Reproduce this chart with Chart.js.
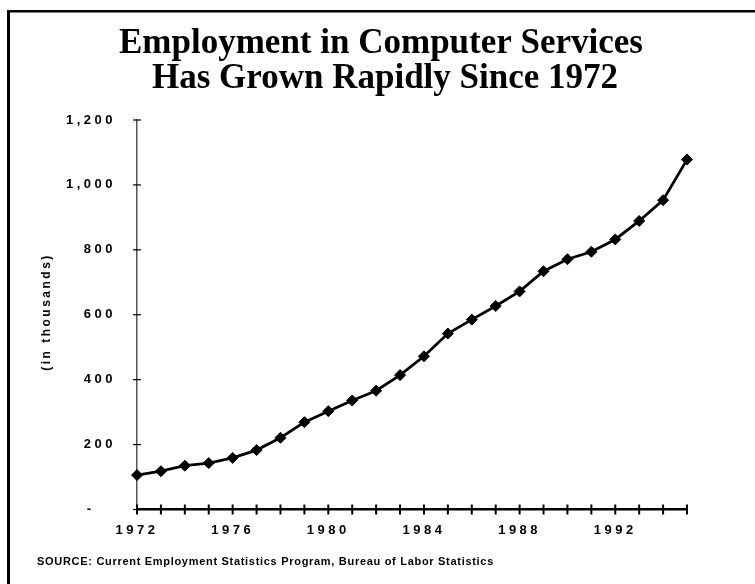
<!DOCTYPE html>
<html>
<head>
<meta charset="utf-8">
<script src="https://cdn.jsdelivr.net/npm/chart.js@4"></script>
<style>
html,body{margin:0;padding:0;background:#fff;}
#wrap{width:755px;height:584px;}
</style>
</head>
<body>
<div id="wrap"><canvas id="chart" width="755" height="584"></canvas></div>
<script>

/* ================= DATA ================= */

let years = [1972,1973,1974,1975,1976,1977,1978,1979,1980,1981,1982,1983,
1984,1985,1986,1987,1988,1989,1990,1991,1992,1993,1994,1995];

let employment = [106,118,135,143,159,183,221,269,303,336,366,414,
472,542,585,627,672,734,771,794,832,889,953,1078];

let yTicks = [0,200,400,600,800,1000,1200];
let xLabels = [1972,1976,1980,1984,1988,1992];

let titleLines = ["Employment in Computer Services","Has Grown Rapidly Since 1972"];
let yTitle = "(in thousands)";
let sourceText = "SOURCE: Current Employment Statistics Program, Bureau of Labor Statistics";

/* ================= EXTRAS (frame, title, ticks) ================= */

let extras = {
id:"extras",
beforeDraw(chart){
chart.ctx.letterSpacing = "3.5px";
},
afterDraw(chart){

let ctx = chart.ctx;
let x = chart.scales.x;
let y = chart.scales.y;

ctx.save();
ctx.letterSpacing = "0px";
ctx.fillStyle = "#000";

// frame: top and left only
ctx.fillRect(7,10,748,2.5);
ctx.fillRect(7,10,3,574);

// title
ctx.font = "bold 35px 'Liberation Serif'";
ctx.textAlign = "center";
ctx.textBaseline = "alphabetic";
ctx.fillText(titleLines[0],381,53);
ctx.fillText(titleLines[1],385,88);

// crossing tick marks
ctx.strokeStyle = "#000";
ctx.lineWidth = 1.2;
yTicks.forEach(v=>{
let py = y.getPixelForValue(v);
ctx.beginPath();
ctx.moveTo(x.left-4,py);
ctx.lineTo(x.left+4,py);
ctx.stroke();
});
ctx.lineWidth = 2;
years.forEach(v=>{
let px = x.getPixelForValue(v);
ctx.beginPath();
ctx.moveTo(px,y.bottom-5);
ctx.lineTo(px,y.bottom+5);
ctx.stroke();
});

// y axis title
ctx.save();
ctx.translate(47,312);
ctx.rotate(-Math.PI/2);
ctx.letterSpacing = "2.5px";
ctx.font = "bold 12px 'Liberation Sans'";
ctx.textAlign = "center";
ctx.textBaseline = "middle";
ctx.fillText(yTitle,0,0);
ctx.restore();

// source
ctx.letterSpacing = "0.7px";
ctx.font = "bold 11px 'Liberation Sans'";
ctx.textAlign = "left";
ctx.textBaseline = "middle";
ctx.fillText(sourceText,37,562);

ctx.restore();

}
};

/* ================= CHART ================= */

let ctx = document.getElementById("chart");

window.myChart = new Chart(ctx,{

type:"line",

data:{
datasets:[{
data:years.map((yr,i)=>({x:yr,y:employment[i]})),
borderColor:"#000",
backgroundColor:"#000",
borderWidth:2.8,
pointStyle:"rectRot",
pointRadius:5.5,
pointBorderWidth:1,
tension:0,
clip:false
}]
},

options:{
responsive:false,
animation:false,
layout:{
padding:{left:0,top:120,right:68,bottom:0}
},
plugins:{
legend:{display:false},
tooltip:{enabled:false}
},
scales:{
x:{
type:"linear",
min:1972,
max:1995,
afterFit(scale){ scale.height = 74.5; },
afterBuildTicks(scale){
scale.ticks = years.map(v=>({value:v}));
},
ticks:{
autoSkip:false,
maxRotation:0,
padding:5,
color:"#000",
font:{family:"'Liberation Sans'",size:13,weight:"bold"},
callback:(v)=> xLabels.includes(v) ? String(v) : ""
},
grid:{display:false},
border:{display:true,color:"#000",width:2.5}
},
y:{
min:0,
max:1200,
afterFit(scale){ scale.width = 137; },
afterBuildTicks(scale){
scale.ticks = yTicks.map(v=>({value:v}));
},
ticks:{
padding:13,
color:"#000",
font:{family:"'Liberation Sans'",size:13,weight:"bold"},
callback:(v)=> v === 0 ? "-   " : v.toLocaleString("en-US")
},
grid:{display:false},
border:{display:true,color:"#555",width:1.5}
}
}
},

plugins:[extras]

});

</script>
</body>
</html>
